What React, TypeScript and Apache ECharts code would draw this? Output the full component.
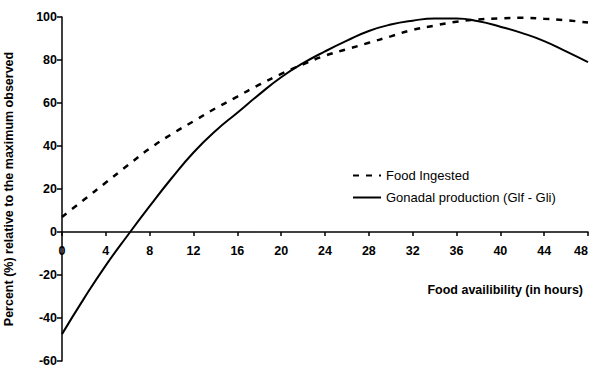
import React, { useEffect, useRef } from "react";
import * as echarts from "echarts";

const hours = [0, 2, 4, 6, 8, 10, 12, 14, 16, 18, 20, 22, 24, 26, 28, 30, 32, 34, 36, 38, 40, 42, 44, 46, 48];
const foodIngested = [7, 15, 23, 31, 38.8, 45.5, 51.5, 57.5, 63, 68.5, 73.5, 78, 82, 85, 88, 91, 94, 96, 97.8, 98.8, 99.4, 99.6, 99.2, 98.5, 97.4];
const gonadal = [-47.5, -31, -15.5, -1.5, 12, 25, 37, 47, 55.5, 64, 72, 78.5, 84, 89, 93.5, 96.5, 98.3, 99.3, 99.3, 98, 95.5, 92.5, 88.8, 84, 79];
const xTicks = { min: 0, max: 48, interval: 4 };
const yTicks = { min: -60, max: 100, interval: 20 };
const seriesNames = ["Food Ingested", "Gonadal production (Glf - Gli)"];
const xName = "Food availibility (in hours)";
const yName = "Percent (%) relative to the maximum observed";

const FONT = "'Liberation Sans', Arial, sans-serif";
const GRID = { left: 62, right: 5, top: 17, bottom: 8 };
const PLOT_H = 369 - GRID.top - GRID.bottom;

export default function App() {
  const ref = useRef<HTMLDivElement>(null);
  useEffect(() => {
    if (!ref.current) return;
    const chart = echarts.init(ref.current, undefined, { renderer: "svg" });
    const pair = (ys: number[]) => hours.map((h, i) => [h, ys[i]]);
    // shift x axis up so that it sits at y = 0
    const zeroOffset = -PLOT_H * ((0 - yTicks.min) / (yTicks.max - yTicks.min));
    chart.setOption({
      animation: false,
      backgroundColor: "#fff",
      textStyle: { fontFamily: FONT },
      grid: { ...GRID, containLabel: false, outerBoundsMode: "none" },
      legend: {
        orient: "vertical",
        left: 347,
        top: 164,
        itemWidth: 28,
        itemHeight: 14,
        itemGap: 9,
        itemStyle: { color: "rgba(0,0,0,0)", borderWidth: 0, opacity: 0 },
        textStyle: { fontFamily: FONT, fontSize: 13, color: "#000" },
        data: seriesNames,
      },
      xAxis: {
        type: "value",
        min: xTicks.min,
        max: xTicks.max,
        interval: xTicks.interval,
        offset: zeroOffset,
        splitLine: { show: false },
        axisLine: { onZero: false, lineStyle: { color: "#000", width: 1.5 } },
        axisTick: { show: true, length: 4, lineStyle: { color: "#000", width: 1.5 } },
        axisLabel: {
          color: "#000",
          fontWeight: "bold",
          fontSize: 12.5,
          fontFamily: FONT,
          margin: 12,
          alignMaxLabel: "right",
        },
      },
      yAxis: {
        type: "value",
        min: yTicks.min,
        max: yTicks.max,
        interval: yTicks.interval,
        splitLine: { show: false },
        axisLine: { show: true, onZero: false, lineStyle: { color: "#000", width: 1.5 } },
        axisTick: { show: true, length: 5, lineStyle: { color: "#000", width: 1.5 } },
        axisLabel: { color: "#000", fontWeight: "bold", fontSize: 12.5, fontFamily: FONT, margin: 5 },
        name: yName,
        nameLocation: "middle",
        nameGap: 47,
        nameTextStyle: { color: "#000", fontWeight: "bold", fontSize: 12.5, fontFamily: FONT },
      },
      graphic: [
        {
          type: "text",
          right: 10,
          top: 283,
          style: { text: xName, fill: "#000", font: `bold 12.5px ${FONT}` },
        },
      ],
      series: [
        {
          name: seriesNames[0],
          type: "line",
          smooth: true,
          symbol: "none",
          data: pair(foodIngested),
          lineStyle: { color: "#000", width: 2.5, type: [6, 7] },
          itemStyle: { color: "#000" },
        },
        {
          name: seriesNames[1],
          type: "line",
          smooth: true,
          symbol: "none",
          data: pair(gonadal),
          lineStyle: { color: "#000", width: 2 },
          itemStyle: { color: "#000" },
        },
      ],
    });
    return () => chart.dispose();
  }, []);
  return <div ref={ref} style={{ width: 593, height: 369, position: "absolute", left: 0, top: 0 }} />;
}
